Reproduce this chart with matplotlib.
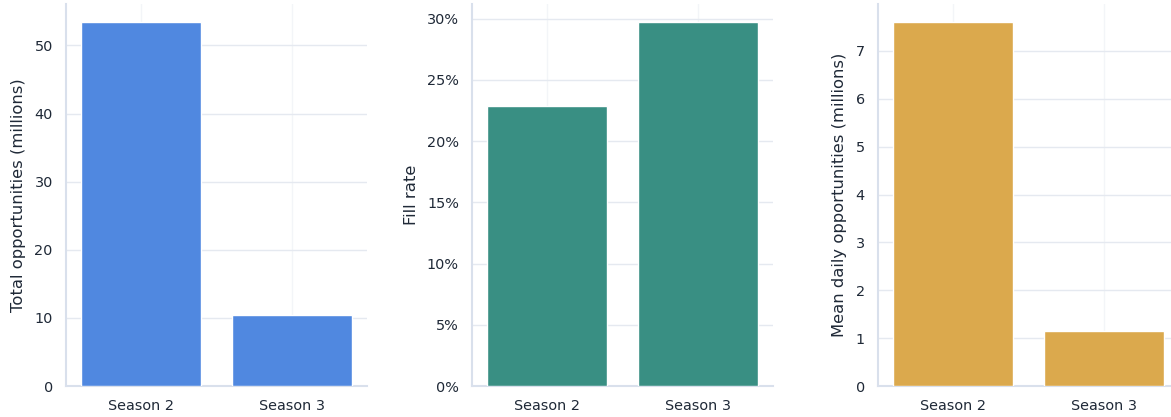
import matplotlib
matplotlib.use("Agg")
import matplotlib.pyplot as plt
import matplotlib.ticker as mticker

# ------------------------------------------------------------------
# Data
# ------------------------------------------------------------------
seasons = ["Season 2", "Season 3"]
total_opps = [53.4, 10.45]        # millions
fill_rate = [0.229, 0.297]        # fraction
mean_daily_opps = [7.6, 1.15]     # millions

PALETTE = {
    "blue": "#5088E0",
    "teal": "#398F83",
    "gold": "#DBA94D",
    "text": "#1F2937",
    "grid": "#E5E9F0",
    "xgrid": "#F3F5F8",
    "spine": "#D9E0EC",
}

plt.rcParams["font.family"] = "DejaVu Sans"

fig = plt.figure(figsize=(11.71, 4.17), dpi=100)
fig.patch.set_facecolor("white")

panels = [
    (total_opps, PALETTE["blue"], "Total opportunities (millions)", None, 0.0564),
    (fill_rate, PALETTE["teal"], "Fill rate", "pct", 0.4031),
    (mean_daily_opps, PALETTE["gold"], "Mean daily opportunities (millions)", None, 0.7498),
]

for values, color, ylabel, fmt, left in panels:
    ax = fig.add_axes([left, 0.0743, 0.257, 0.916])
    ax.set_facecolor("white")
    ax.bar(range(len(seasons)), values, width=0.8, color=color,
           edgecolor="white", linewidth=1.0, zorder=3)
    ax.set_xlim(-0.5, len(seasons) - 0.5)
    ax.set_xticks(range(len(seasons)))
    ax.set_xticklabels(seasons)
    ax.set_ylim(0, max(values) * 1.05)
    if fmt == "pct":
        ax.yaxis.set_major_locator(mticker.MultipleLocator(0.05))
        ax.yaxis.set_major_formatter(mticker.FuncFormatter(lambda v, _: f"{v * 100:.0f}%"))
    ax.set_ylabel(ylabel, fontsize=11.8, color=PALETTE["text"], labelpad=6)
    ax.tick_params(axis="both", length=0, labelsize=10.4, colors=PALETTE["text"], pad=9.5)
    ax.grid(axis="y", color=PALETTE["grid"], linewidth=1.0, zorder=0)
    ax.grid(axis="x", color=PALETTE["xgrid"], linewidth=1.0, zorder=0)
    ax.set_axisbelow(True)
    for side in ("top", "right"):
        ax.spines[side].set_visible(False)
    for side in ("left", "bottom"):
        ax.spines[side].set_color(PALETTE["spine"])
        ax.spines[side].set_linewidth(1.5)

fig.savefig("out.png", dpi=100, facecolor="white")
